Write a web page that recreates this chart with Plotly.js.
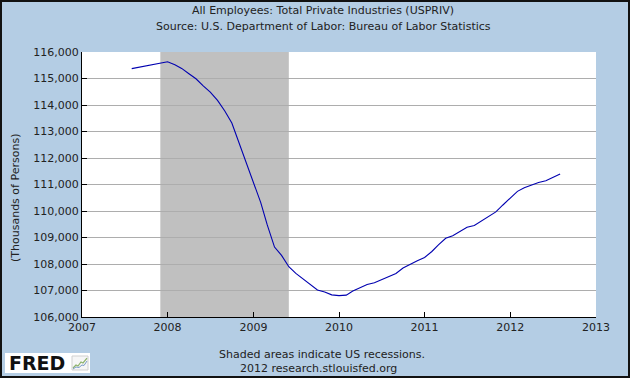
<!DOCTYPE html>
<html><head><meta charset="utf-8">
<script src="https://cdn.plot.ly/plotly-3.0.1.min.js"></script>
<style>
html,body{margin:0;padding:0;background:#b4cde4;overflow:hidden;}
#wrap{width:630px;height:378px;box-sizing:border-box;border:2px solid #111;background:#b4cde4;}
#chart{width:626px;height:374px;}
</style></head><body><div id="wrap"><div id="chart"></div></div>
<script>
const dates = [
 '2007-08-01','2007-09-01','2007-10-01','2007-11-01','2007-12-01',
 '2008-01-01','2008-02-01','2008-03-01','2008-04-01','2008-05-01','2008-06-01','2008-07-01','2008-08-01','2008-09-01','2008-10-01','2008-11-01','2008-12-01',
 '2009-01-01','2009-02-01','2009-03-01','2009-04-01','2009-05-01','2009-06-01','2009-07-01','2009-08-01','2009-09-01','2009-10-01','2009-11-01','2009-12-01',
 '2010-01-01','2010-02-01','2010-03-01','2010-04-01','2010-05-01','2010-06-01','2010-07-01','2010-08-01','2010-09-01','2010-10-01','2010-11-01','2010-12-01',
 '2011-01-01','2011-02-01','2011-03-01','2011-04-01','2011-05-01','2011-06-01','2011-07-01','2011-08-01','2011-09-01','2011-10-01','2011-11-01','2011-12-01',
 '2012-01-01','2012-02-01','2012-03-01','2012-04-01','2012-05-01','2012-06-01','2012-07-01','2012-08-01'
];
const values = [
 115373,115422,115474,115530,115590,
 115632,115515,115381,115182,114991,114725,114485,114174,113773,113323,112573,111861,
 111074,110324,109474,108638,108327,107896,107645,107427,107214,107019,106944,106835,
 106805,106824,106981,107120,107229,107296,107412,107525,107645,107851,107997,108124,
 108244,108473,108720,108971,109065,109226,109384,109451,109631,109796,109965,110227,
 110489,110741,110879,110984,111074,111145,111273,111400
];
const yTickVals = [106000,107000,108000,109000,110000,111000,112000,113000,114000,115000,116000];
const xTickVals = ['2007-01-01','2008-01-01','2009-01-01','2010-01-01','2011-01-01','2012-01-01','2013-01-01'];
const xTickText = ['2007','2008','2009','2010','2011','2012','2013'];
const recession = ['2007-12-01','2009-06-01'];
const titleLines = ['All Employees: Total Private Industries (USPRIV)','Source: U.S. Department of Labor: Bureau of Labor Statistics'];
const yTitle = '(Thousands of Persons)';
const footLines = ['Shaded areas indicate US recessions.','2012 research.stlouisfed.org'];
const logoText = 'FRED';

const FONT = 'DejaVu Sans, Verdana, sans-serif';
const TXT = '#222222';
const L=80, T=50, W=514, H=265;
function px(x){return (x-2-L)/W;}
function py(y){return (T+H-(y-2))/H;}
function ann(text,x,y,opts){return Object.assign({text:text,xref:'paper',yref:'paper',x:px(x),y:py(y),xanchor:'center',yanchor:'middle',showarrow:false,font:{family:FONT,size:11,color:TXT}},opts||{});}
function pathP(pts){return pts.map((p,i)=>(i?'L':'M')+px(p[0]).toFixed(5)+','+py(p[1]).toFixed(5)).join(' ');}

// small logo icon (decorative), offsets from its top-left corner
const ix=72, iy=356;
const iconShapes = [
 {type:'rect', xref:'paper', yref:'paper', x0:px(ix), x1:px(ix+16), y0:py(iy+14), y1:py(iy), fillcolor:'#f6f6f6', line:{color:'#d0d0d0', width:1}, layer:'above'},
 {type:'path', xref:'paper', yref:'paper', path:pathP([[ix+1,iy+12],[ix+4,iy+9],[ix+6,iy+10],[ix+9,iy+6],[ix+11,iy+7],[ix+15,iy+2]]), line:{color:'#8db26a', width:1.2}, layer:'above'},
 {type:'path', xref:'paper', yref:'paper', path:pathP([[ix+1,iy+13],[ix+4,iy+11],[ix+7,iy+11.5],[ix+10,iy+9],[ix+12,iy+9.5],[ix+15,iy+5]]), line:{color:'#7a9cc8', width:1}, layer:'above'}
];

const trace = {x:dates, y:values, type:'scatter', mode:'lines', line:{color:'#0000b0', width:1.1}, hoverinfo:'skip'};

const layout = {
 width:626, height:374,
 margin:{l:L, r:626-L-W, t:T, b:374-T-H, pad:0},
 paper_bgcolor:'#b4cde4', plot_bgcolor:'#ffffff',
 showlegend:false,
 font:{family:FONT, size:11, color:TXT},
 xaxis:{type:'date', range:['2007-01-01','2013-01-01'], tickmode:'array', tickvals:xTickVals, ticktext:xTickText,
  ticks:'inside', ticklen:5, tickcolor:'#000', showgrid:false, showline:true, linecolor:'#000', linewidth:1,
  zeroline:false, automargin:false, tickfont:{family:FONT,size:11,color:TXT}, fixedrange:true},
 yaxis:{range:[106000,116000], tickmode:'array', tickvals:yTickVals, tickformat:',d',
  ticks:'inside', ticklen:5, tickcolor:'#000', showgrid:true, gridcolor:'#adadad', gridwidth:1,
  showline:true, linecolor:'#000', linewidth:1, zeroline:false, automargin:false,
  tickfont:{family:FONT,size:11,color:TXT}, fixedrange:true},
 shapes:[
  {type:'rect', xref:'x', yref:'paper', x0:recession[0], x1:recession[1], y0:0, y1:1, fillcolor:'#c0c0c0', line:{width:0}, layer:'between'},
  {type:'rect', xref:'paper', yref:'paper', x0:px(5), x1:px(90), y0:py(373), y1:py(353), fillcolor:'#ffffff', line:{width:0}, layer:'above'}
 ].concat(iconShapes),
 annotations:[
  ann(titleLines[0], 323, 10),
  ann(titleLines[1], 323, 26),
  ann(yTitle, 15, 198, {textangle:-90}),
  ann(footLines[0], 322, 354),
  ann(footLines[1], 318, 368),
  ann('<b>'+logoText+'</b>', 37, 363, {font:{family:'DejaVu Sans, Arial, sans-serif', size:19, color:'#111'}})
 ]
};
Plotly.newPlot('chart',[trace],layout,{staticPlot:true, displayModeBar:false});
</script></body></html>
